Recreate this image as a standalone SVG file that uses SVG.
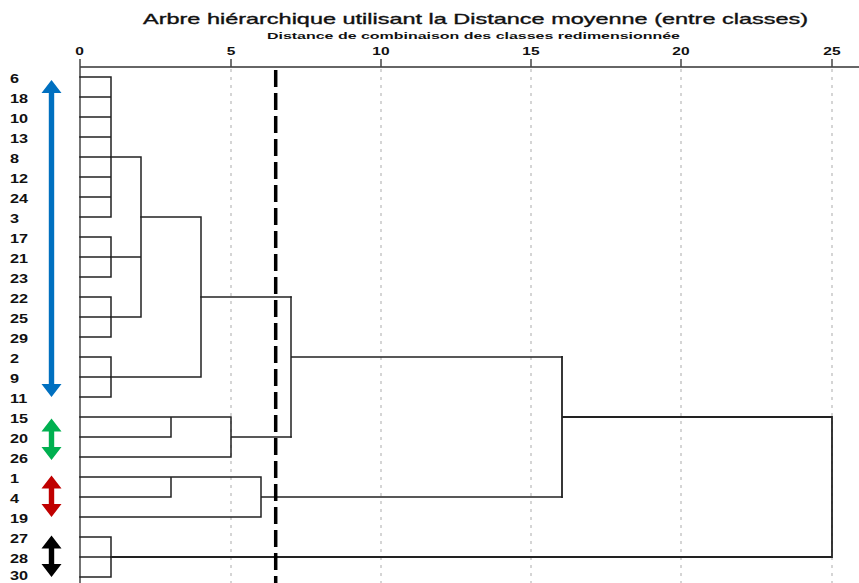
<svg xmlns="http://www.w3.org/2000/svg" width="859" height="583" viewBox="0 0 859 583">
<style>
text{font-family:"Liberation Sans",Arial,sans-serif;fill:#111}
.title{font-size:15px;stroke:#111;stroke-width:0.35}
.sub{font-size:9.5px;font-weight:bold}
.tick{font-size:11.5px;font-weight:bold;text-anchor:middle}
.lab{font-size:12.5px;font-weight:bold}
.grid{stroke:#c8c8c8;stroke-width:1.5;stroke-dasharray:3 5;fill:none}
.axis{stroke:#666;stroke-width:2;fill:none}
.tk{stroke:#444;stroke-width:1.5}
.den{stroke:#222;stroke-width:1.5;fill:none;stroke-linecap:square}
.cut{stroke:#000;stroke-width:3.5;stroke-dasharray:17 6;fill:none}
</style>
<defs>
<path id="dbl" d="M0,0 L10,13 L2.7,13 L2.7,28.5 L10,28.5 L0,41.5 L-10,28.5 L-2.7,28.5 L-2.7,13 L-10,13 Z"/>
</defs>
<rect width="859" height="583" fill="#fff"/>
<g id="titles">
<text class="title" x="143" y="24" textLength="665" lengthAdjust="spacingAndGlyphs">Arbre hiérarchique utilisant la Distance moyenne (entre classes)</text>
<text class="sub" x="267" y="38.5" textLength="413" lengthAdjust="spacingAndGlyphs">Distance de combinaison des classes redimensionnée</text>
</g>
<g id="grid">
<line class="grid" x1="231" y1="69" x2="231" y2="583"/>
<line class="grid" x1="381" y1="69" x2="381" y2="583"/>
<line class="grid" x1="531" y1="69" x2="531" y2="583"/>
<line class="grid" x1="681" y1="69" x2="681" y2="583"/>
<line class="grid" x1="832" y1="69" x2="832" y2="583"/>
</g>
<g id="axis">
<line class="axis" x1="80" y1="67" x2="859" y2="67"/>
<line class="tk" x1="80" y1="59" x2="80" y2="583"/>
<line class="tk" x1="231" y1="59" x2="231" y2="67"/>
<line class="tk" x1="381" y1="59" x2="381" y2="67"/>
<line class="tk" x1="531" y1="59" x2="531" y2="67"/>
<line class="tk" x1="681" y1="59" x2="681" y2="67"/>
<line class="tk" x1="832" y1="59" x2="832" y2="67"/>
<text class="tick" transform="translate(79.5 54.5) scale(1.35 1)">0</text>
<text class="tick" transform="translate(231 54.5) scale(1.35 1)">5</text>
<text class="tick" transform="translate(381 54.5) scale(1.35 1)">10</text>
<text class="tick" transform="translate(531 54.5) scale(1.35 1)">15</text>
<text class="tick" transform="translate(681 54.5) scale(1.35 1)">20</text>
<text class="tick" transform="translate(832 54.5) scale(1.35 1)">25</text>
</g>
<g id="labels" transform="translate(10 0) scale(1.3 1)">
<g id="leaf-6"><text class="lab" x="0" y="83.5">6</text></g>
<g id="leaf-18"><text class="lab" x="0" y="103.5">18</text></g>
<g id="leaf-10"><text class="lab" x="0" y="123.5">10</text></g>
<g id="leaf-13"><text class="lab" x="0" y="143.5">13</text></g>
<g id="leaf-8"><text class="lab" x="0" y="163.5">8</text></g>
<g id="leaf-12"><text class="lab" x="0" y="183.5">12</text></g>
<g id="leaf-24"><text class="lab" x="0" y="203.5">24</text></g>
<g id="leaf-3"><text class="lab" x="0" y="223.5">3</text></g>
<g id="leaf-17"><text class="lab" x="0" y="243.5">17</text></g>
<g id="leaf-21"><text class="lab" x="0" y="263.5">21</text></g>
<g id="leaf-23"><text class="lab" x="0" y="283.5">23</text></g>
<g id="leaf-22"><text class="lab" x="0" y="303.5">22</text></g>
<g id="leaf-25"><text class="lab" x="0" y="323.5">25</text></g>
<g id="leaf-29"><text class="lab" x="0" y="343.5">29</text></g>
<g id="leaf-2"><text class="lab" x="0" y="363.5">2</text></g>
<g id="leaf-9"><text class="lab" x="0" y="383.5">9</text></g>
<g id="leaf-11"><text class="lab" x="0" y="403.5">11</text></g>
<g id="leaf-15"><text class="lab" x="0" y="423.5">15</text></g>
<g id="leaf-20"><text class="lab" x="0" y="443.5">20</text></g>
<g id="leaf-26"><text class="lab" x="0" y="463.5">26</text></g>
<g id="leaf-1"><text class="lab" x="0" y="483.5">1</text></g>
<g id="leaf-4"><text class="lab" x="0" y="503.5">4</text></g>
<g id="leaf-19"><text class="lab" x="0" y="523.5">19</text></g>
<g id="leaf-27"><text class="lab" x="0" y="543.5">27</text></g>
<g id="leaf-28"><text class="lab" x="0" y="563.5">28</text></g>
<g id="leaf-30"><text class="lab" x="0" y="580">30</text></g>
</g>
<g id="connectors">
<path class="den" d="M80,77H111M80,97H111M80,117H111M80,137H111M80,157H111M80,177H111M80,197H111M80,217H111M111,77V217"/>
<path class="den" d="M80,237H111M80,257H111M80,277H111M111,237V277"/>
<path class="den" d="M80,297H111M80,317H111M80,337H111M111,297V337"/>
<path class="den" d="M80,357H111M80,377H111M80,397H111M111,357V397"/>
<path class="den" d="M80,537H111M80,557H111M80,577H111M111,537V577"/>
<path class="den" d="M111,157H141M111,257H141M111,317H141M141,157V317"/>
<path class="den" d="M141,217H201M111,377H201M201,217V377"/>
<path class="den" d="M201,297H291"/>
<path class="den" d="M80,417H171M80,437H171M171,417V437M171,417H231M80,457H231M231,417V457M231,437H291"/>
<path class="den" d="M291,297V437M291,357H562"/>
<path class="den" d="M80,477H171M80,497H171M171,477V497M171,477H261M80,517H261M261,477V517M261,497H562"/>
<path class="den" d="M562,357V497M562,417H832M111,557H832M832,417V557" style="stroke-width:1.8"/>
</g>
<g id="cut-line">
<line class="cut" x1="275.7" y1="70" x2="275.7" y2="583"/>
</g>
<g id="arrow-blue">
<polygon fill="#0070C0" points="51.5,80 61.5,93 54.2,93 54.2,384 61.5,384 51.5,397 41.5,384 48.8,384 48.8,93 41.5,93"/>
</g>
<g id="arrow-green"><use href="#dbl" fill="#00B050" transform="translate(51.5 418.5)"/></g>
<g id="arrow-red"><use href="#dbl" fill="#C00000" transform="translate(51.5 475.5)"/></g>
<g id="arrow-black"><use href="#dbl" fill="#000" transform="translate(51.5 535.5)"/></g>
</svg>
